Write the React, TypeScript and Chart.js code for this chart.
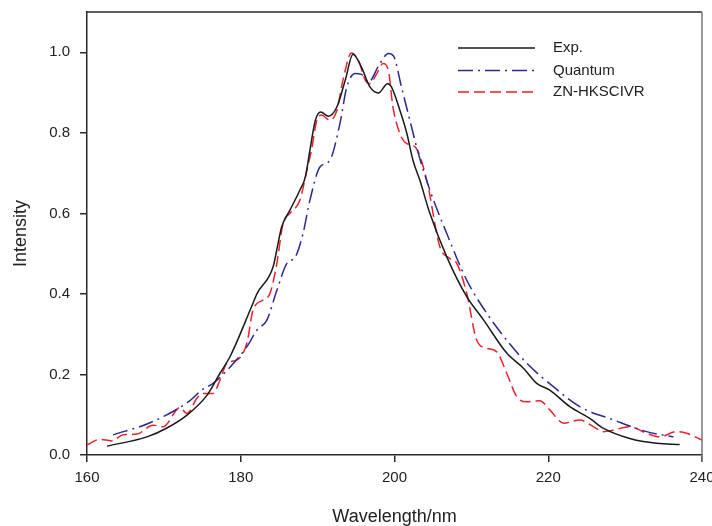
import React, { useEffect, useRef } from "react";
import { Chart, registerables } from "chart.js";

Chart.register(...registerables);

const seriesNames = ["Exp.", "Quantum", "ZN-HKSCIVR"];
const xTicks = [160, 180, 200, 220, 240];
const yTicks = [0, 0.2, 0.4, 0.6, 0.8, 1.0];

const expX = [162.6, 167.8, 170.4, 173, 175.6, 177.3, 178.6, 181.4, 182.1, 184.2, 184.8, 185.3, 186.4, 187.7, 188.4, 189, 189.7, 190.4, 191.4, 192.5, 193.6, 194.6, 195.7, 196.8, 197.9, 199.1, 199.6, 200.7, 201.6, 202.4, 203.3, 204.6, 206.8, 209.4, 211.6, 214.6, 216.8, 218.5, 220.2, 222.8, 225.4, 227.2, 230.6, 234.1, 237.1];
const expY = [0.022, 0.045, 0.067, 0.099, 0.148, 0.203, 0.244, 0.368, 0.4, 0.467, 0.52, 0.565, 0.608, 0.658, 0.69, 0.757, 0.831, 0.852, 0.841, 0.864, 0.931, 0.995, 0.963, 0.914, 0.899, 0.922, 0.914, 0.856, 0.799, 0.732, 0.682, 0.6, 0.492, 0.393, 0.335, 0.253, 0.215, 0.178, 0.161, 0.12, 0.091, 0.066, 0.041, 0.029, 0.026];

const quantumX = [163.4, 168.2, 173.4, 174.9, 176.4, 178.2, 180.8, 182.1, 183.4, 184.7, 186, 187.1, 188.1, 189, 190.3, 191.6, 192.9, 193.8, 194.9, 195.7, 196.6, 198.1, 199.2, 199.9, 200.9, 202, 203.1, 204.6, 206.8, 209.4, 212, 214.6, 217.2, 220.7, 224.1, 228.5, 232.8, 236.3];
const quantumY = [0.05, 0.08, 0.135, 0.161, 0.178, 0.21, 0.269, 0.31, 0.335, 0.409, 0.476, 0.492, 0.55, 0.633, 0.715, 0.732, 0.823, 0.914, 0.947, 0.945, 0.926, 0.972, 0.997, 0.99, 0.914, 0.831, 0.749, 0.658, 0.55, 0.434, 0.352, 0.285, 0.228, 0.169, 0.12, 0.087, 0.058, 0.045];

const znX = [160, 161.7, 163.2, 164.7, 166.5, 168.6, 169.9, 172.1, 173, 174.3, 175.1, 176.4, 177.3, 178.2, 179.5, 180.8, 181.6, 182.9, 183.8, 184.7, 185.5, 186.4, 187.7, 188.6, 189.2, 189.9, 190.5, 191.6, 192.5, 193.3, 194.4, 195.3, 196.2, 196.8, 197.7, 198.5, 199.2, 199.8, 200.7, 201.6, 202.7, 204.2, 205.9, 207.2, 208.1, 209.4, 210.7, 212, 213.3, 214.6, 215.9, 217.2, 218.9, 220.2, 222, 224.1, 225.9, 227.2, 228.5, 230.6, 232.8, 234.5, 236.7, 238, 240];
const znY = [0.025, 0.039, 0.035, 0.05, 0.052, 0.074, 0.07, 0.118, 0.103, 0.141, 0.153, 0.153, 0.186, 0.228, 0.236, 0.278, 0.36, 0.385, 0.401, 0.476, 0.575, 0.6, 0.633, 0.707, 0.757, 0.831, 0.844, 0.831, 0.856, 0.931, 0.998, 0.98, 0.931, 0.922, 0.947, 0.972, 0.955, 0.864, 0.798, 0.773, 0.765, 0.682, 0.517, 0.488, 0.476, 0.401, 0.285, 0.265, 0.256, 0.203, 0.145, 0.132, 0.135, 0.112, 0.079, 0.087, 0.07, 0.058, 0.062, 0.07, 0.054, 0.045, 0.058, 0.054, 0.037];

const colors = ["#1a1a1a", "#2a2a92", "#e8222c"];
const dashes: number[][] = [[], [15, 5, 2, 5], [11, 5]];
const FONT = "'Liberation Sans', Arial, sans-serif";
const TEXT = "#222222";

const toPts = (xs: number[], ys: number[]) => xs.map((x, i) => ({ x, y: ys[i] }));

export default function App() {
  const ref = useRef<HTMLCanvasElement | null>(null);
  useEffect(() => {
    if (!ref.current) return;
    const frameLegend = {
      id: "frameLegend",
      afterDraw(chart: any) {
        const { ctx, chartArea } = chart;
        const { left, right, top, bottom } = chartArea;
        ctx.save();
        ctx.lineWidth = 1.5;
        ctx.strokeStyle = "#2a2a2a";
        ctx.beginPath();
        ctx.moveTo(left, top);
        ctx.lineTo(right, top);
        ctx.stroke();
        ctx.strokeStyle = "#777777";
        ctx.beginPath();
        ctx.moveTo(right, top);
        ctx.lineTo(right, bottom + 7);
        ctx.stroke();
        // legend
        const lx0 = left + 371;
        const lx1 = left + 448;
        const tx = left + 466;
        const rows = [top + 36, top + 58.5, top + 80];
        ctx.font = `15px ${FONT}`;
        ctx.textBaseline = "middle";
        ctx.textAlign = "left";
        seriesNames.forEach((name, i) => {
          ctx.strokeStyle = colors[i];
          ctx.lineWidth = 1.5;
          ctx.setLineDash(dashes[i]);
          ctx.beginPath();
          ctx.moveTo(lx0, rows[i]);
          ctx.lineTo(lx1, rows[i]);
          ctx.stroke();
          ctx.setLineDash([]);
          ctx.fillStyle = TEXT;
          ctx.fillText(name, tx, rows[i]);
        });
        ctx.restore();
      },
    };
    const chart = new Chart(ref.current, {
      type: "line",
      data: {
        datasets: [
          { label: seriesNames[0], data: toPts(expX, expY) },
          { label: seriesNames[1], data: toPts(quantumX, quantumY) },
          { label: seriesNames[2], data: toPts(znX, znY) },
        ].map((d, i) => ({
          ...d,
          borderColor: colors[i],
          borderWidth: 1.5,
          borderDash: dashes[i],
          pointRadius: 0,
          fill: false,
          cubicInterpolationMode: "monotone" as const,
        })),
      },
      options: {
        animation: false,
        responsive: false,
        maintainAspectRatio: false,
        layout: { padding: { top: 12, right: 10, left: 0, bottom: 0 } },
        plugins: { legend: { display: false }, tooltip: { enabled: false } },
        scales: {
          x: {
            type: "linear",
            min: 160,
            max: 240,
            afterBuildTicks: (s: any) => {
              s.ticks = xTicks.map((v) => ({ value: v }));
            },
            afterFit: (s: any) => {
              s.height = 71;
              s.paddingLeft = 0;
              s.paddingRight = 0;
            },
            grid: { drawOnChartArea: false, drawTicks: true, tickLength: 7, color: "#2a2a2a", lineWidth: 1.5 },
            border: { display: true, color: "#2a2a2a", width: 1.5 },
            ticks: {
              padding: 7,
              maxRotation: 0,
              color: TEXT,
              font: { family: FONT, size: 15 },
              callback: (v: any) => String(v),
            },
            title: {
              display: true,
              text: "Wavelength/nm",
              color: TEXT,
              font: { family: FONT, size: 18, lineHeight: 1.0 },
              padding: { top: 0, bottom: 0 },
            },
          },
          y: {
            type: "linear",
            min: 0,
            max: 1.1,
            afterBuildTicks: (s: any) => {
              s.ticks = yTicks.map((v) => ({ value: v }));
            },
            afterFit: (s: any) => {
              s.width = 87;
              s.paddingTop = 0;
              s.paddingBottom = 0;
            },
            grid: { drawOnChartArea: false, drawTicks: true, tickLength: 7, color: "#2a2a2a", lineWidth: 1.5 },
            border: { display: true, color: "#2a2a2a", width: 1.5 },
            ticks: {
              padding: 10,
              color: TEXT,
              font: { family: FONT, size: 15 },
              callback: (v: any) => Number(v).toFixed(1),
            },
            title: {
              display: true,
              text: "Intensity",
              color: TEXT,
              font: { family: FONT, size: 18 },
              padding: { top: 10, bottom: 0 },
            },
          },
        },
      },
      plugins: [frameLegend],
    });
    return () => chart.destroy();
  }, []);
  return (
    <div style={{ position: "fixed", left: 0, top: 0, width: 712, height: 526, background: "#fff" }}>
      <canvas ref={ref} width={712} height={526} style={{ display: "block" }} />
    </div>
  );
}
